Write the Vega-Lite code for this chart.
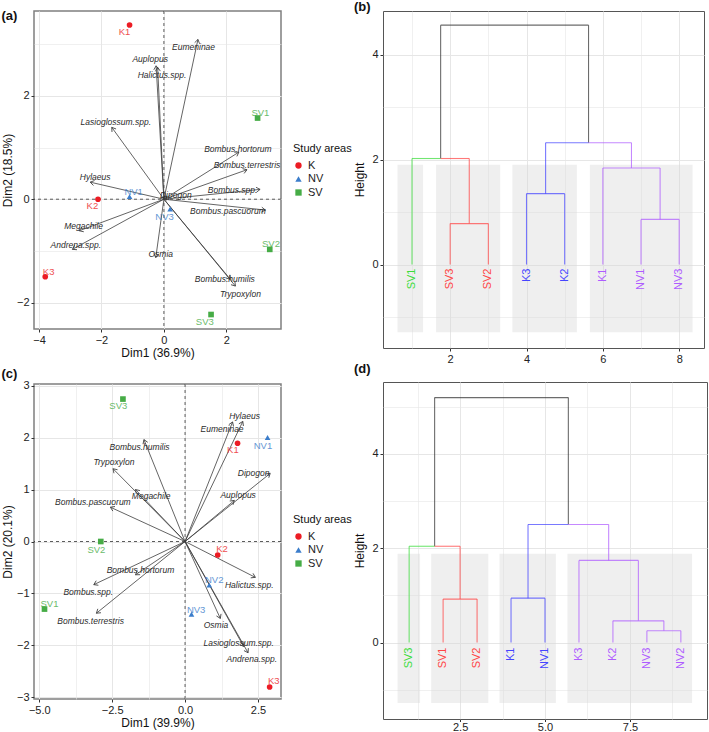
{
  "$schema": "https://vega.github.io/schema/vega-lite/v6.json",
  "background": "white",
  "padding": {"left": 0, "top": 0, "right": 0, "bottom": 0},
  "config": {
    "font": "Liberation Sans",
    "axis": {"labelFont": "Liberation Sans", "labelFontSize": 11, "labelColor": "#222222", "titleFont": "Liberation Sans", "titleFontSize": 12, "titleFontWeight": "normal", "titleColor": "#111111", "domain": false, "tickColor": "#333333", "tickSize": 3, "labelPadding": 2, "gridColor": "#E6E6E6", "titlePadding": 2, "labelOverlap": false},
    "legend": {"orient": "right", "offset": 12, "titleFont": "Liberation Sans", "titleFontSize": 11, "titleFontWeight": "normal", "titleColor": "#111111", "labelFont": "Liberation Sans", "labelFontSize": 11, "labelColor": "#222222", "symbolSize": 40, "rowPadding": 1.5, "titlePadding": 6, "layout": {"right": {"anchor": "middle"}}},
    "title": {"font": "Liberation Sans", "fontSize": 13, "fontWeight": "bold", "anchor": "start", "frame": "bounds", "color": "#111111"}
  },
  "datasets": {
    "ptsA": [
      {"name": "K1", "area": "K", "x": -1.10, "y": 3.37, "lx": -1.26, "ly": 3.24},
      {"name": "K2", "area": "K", "x": -2.11, "y": 0.00, "lx": -2.29, "ly": -0.14},
      {"name": "K3", "area": "K", "x": -3.80, "y": -1.50, "lx": -3.69, "ly": -1.41},
      {"name": "NV1", "area": "NV", "x": -1.10, "y": 0.05, "lx": -0.97, "ly": 0.13},
      {"name": "NV3", "area": "NV", "x": 0.20, "y": -0.19, "lx": 0.02, "ly": -0.34},
      {"name": "SV1", "area": "SV", "x": 3.00, "y": 1.57, "lx": 3.09, "ly": 1.66},
      {"name": "SV2", "area": "SV", "x": 3.39, "y": -0.97, "lx": 3.43, "ly": -0.86},
      {"name": "SV3", "area": "SV", "x": 1.51, "y": -2.23, "lx": 1.31, "ly": -2.37}
    ],
    "arrA": [
      {"sp": "Eumeninae", "x": 1.09, "y": 3.09, "lx": 0.95, "ly": 2.95},
      {"sp": "Auplopus", "x": -0.25, "y": 2.58, "lx": -0.44, "ly": 2.71},
      {"sp": "Halictus.spp.", "x": -0.20, "y": 2.55, "lx": -0.06, "ly": 2.40},
      {"sp": "Lasioglossum.spp.", "x": -1.67, "y": 1.39, "lx": -1.54, "ly": 1.50},
      {"sp": "Bombus.hortorum", "x": 2.40, "y": 0.91, "lx": 2.37, "ly": 0.97},
      {"sp": "Bombus.terrestris", "x": 2.66, "y": 0.57, "lx": 2.66, "ly": 0.67},
      {"sp": "Bombus.spp.", "x": 3.08, "y": 0.19, "lx": 2.20, "ly": 0.17},
      {"sp": "Bombus.pascuorum", "x": 3.25, "y": -0.21, "lx": 2.05, "ly": -0.23},
      {"sp": "Dipogon", "x": 0.10, "y": 0.06, "lx": 0.38, "ly": 0.08},
      {"sp": "Hylaeus", "x": -2.36, "y": 0.33, "lx": -2.20, "ly": 0.42},
      {"sp": "Megachile", "x": -2.71, "y": -0.61, "lx": -2.57, "ly": -0.52},
      {"sp": "Andrena.spp.", "x": -2.93, "y": -0.97, "lx": -2.82, "ly": -0.88},
      {"sp": "Osmia", "x": -0.26, "y": -1.13, "lx": -0.10, "ly": -1.05},
      {"sp": "Bombus.humilis", "x": 2.13, "y": -1.55, "lx": 1.95, "ly": -1.55},
      {"sp": "Trypoxylon", "x": 2.29, "y": -1.68, "lx": 2.45, "ly": -1.83}
    ],
    "ptsC": [
      {"name": "SV3", "area": "SV", "x": -2.13, "y": 2.74, "lx": -2.29, "ly": 2.60},
      {"name": "K1", "area": "K", "x": 1.80, "y": 1.89, "lx": 1.64, "ly": 1.76},
      {"name": "NV1", "area": "NV", "x": 2.83, "y": 2.00, "lx": 2.67, "ly": 1.84},
      {"name": "SV2", "area": "SV", "x": -2.89, "y": 0.00, "lx": -3.04, "ly": -0.16},
      {"name": "K2", "area": "K", "x": 1.12, "y": -0.26, "lx": 1.27, "ly": -0.15},
      {"name": "NV2", "area": "NV", "x": 0.83, "y": -0.84, "lx": 1.00, "ly": -0.74},
      {"name": "SV1", "area": "SV", "x": -4.82, "y": -1.30, "lx": -4.65, "ly": -1.20},
      {"name": "NV3", "area": "NV", "x": 0.22, "y": -1.40, "lx": 0.38, "ly": -1.31},
      {"name": "K3", "area": "K", "x": 2.90, "y": -2.80, "lx": 3.04, "ly": -2.69}
    ],
    "arrC": [
      {"sp": "Hylaeus", "x": 1.98, "y": 2.31, "lx": 2.04, "ly": 2.41},
      {"sp": "Eumeninae", "x": 1.63, "y": 2.30, "lx": 1.27, "ly": 2.17},
      {"sp": "Dipogon", "x": 2.92, "y": 1.31, "lx": 2.35, "ly": 1.31},
      {"sp": "Auplopus", "x": 1.69, "y": 0.79, "lx": 1.82, "ly": 0.89},
      {"sp": "Bombus.humilis", "x": -1.41, "y": 1.96, "lx": -1.56, "ly": 1.81},
      {"sp": "Trypoxylon", "x": -2.47, "y": 1.40, "lx": -2.44, "ly": 1.52},
      {"sp": "Megachile", "x": -1.70, "y": 1.00, "lx": -1.16, "ly": 0.87},
      {"sp": "Bombus.pascuorum", "x": -2.56, "y": 0.66, "lx": -3.16, "ly": 0.76},
      {"sp": "Bombus.hortorum", "x": -1.70, "y": -0.64, "lx": -1.53, "ly": -0.55},
      {"sp": "Bombus.spp.", "x": -3.13, "y": -0.83, "lx": -3.32, "ly": -0.97},
      {"sp": "Bombus.terrestris", "x": -3.04, "y": -1.38, "lx": -3.24, "ly": -1.53},
      {"sp": "Halictus.spp.", "x": 2.41, "y": -0.69, "lx": 2.20, "ly": -0.84},
      {"sp": "Osmia", "x": 1.21, "y": -1.48, "lx": 1.06, "ly": -1.61},
      {"sp": "Lasioglossum.spp.", "x": 2.01, "y": -2.02, "lx": 1.84, "ly": -1.95},
      {"sp": "Andrena.spp.", "x": 2.16, "y": -2.14, "lx": 2.29, "ly": -2.27}
    ],
    "rectB": [
      {"x": 0.62, "x2": 1.29, "y": -1.29, "y2": 1.90},
      {"x": 1.63, "x2": 3.31, "y": -1.29, "y2": 1.90},
      {"x": 3.63, "x2": 5.32, "y": -1.29, "y2": 1.90},
      {"x": 5.66, "x2": 8.35, "y": -1.29, "y2": 1.90}
    ],
    "rectD": [
      {"x": 0.66, "x2": 1.32, "y": -1.28, "y2": 1.88},
      {"x": 1.65, "x2": 3.33, "y": -1.28, "y2": 1.88},
      {"x": 3.66, "x2": 5.32, "y": -1.28, "y2": 1.88},
      {"x": 5.66, "x2": 9.33, "y": -1.28, "y2": 1.88}
    ],
    "segB": [
      {"x": 1.75, "x2": 5.625, "y": 4.56, "y2": 4.56, "cl": "root"},
      {"x": 1.75, "x2": 1.75, "y": 4.56, "y2": 2.02, "cl": "root"},
      {"x": 5.625, "x2": 5.625, "y": 4.56, "y2": 2.32, "cl": "root"},
      {"x": 1, "x2": 1.75, "y": 2.02, "y2": 2.02, "cl": "c1"},
      {"x": 1, "x2": 1, "y": 2.02, "y2": 0, "cl": "c1"},
      {"x": 1.75, "x2": 2.5, "y": 2.02, "y2": 2.02, "cl": "c2"},
      {"x": 2.5, "x2": 2.5, "y": 2.02, "y2": 0.78, "cl": "c2"},
      {"x": 2, "x2": 3, "y": 0.78, "y2": 0.78, "cl": "c2"},
      {"x": 2, "x2": 2, "y": 0.78, "y2": 0, "cl": "c2"},
      {"x": 3, "x2": 3, "y": 0.78, "y2": 0, "cl": "c2"},
      {"x": 4.5, "x2": 5.625, "y": 2.32, "y2": 2.32, "cl": "c3"},
      {"x": 4.5, "x2": 4.5, "y": 2.32, "y2": 1.35, "cl": "c3"},
      {"x": 4, "x2": 5, "y": 1.35, "y2": 1.35, "cl": "c3"},
      {"x": 4, "x2": 4, "y": 1.35, "y2": 0, "cl": "c3"},
      {"x": 5, "x2": 5, "y": 1.35, "y2": 0, "cl": "c3"},
      {"x": 5.625, "x2": 6.75, "y": 2.32, "y2": 2.32, "cl": "c4"},
      {"x": 6.75, "x2": 6.75, "y": 2.32, "y2": 1.84, "cl": "c4"},
      {"x": 6, "x2": 7.5, "y": 1.84, "y2": 1.84, "cl": "c4"},
      {"x": 6, "x2": 6, "y": 1.84, "y2": 0, "cl": "c4"},
      {"x": 7.5, "x2": 7.5, "y": 1.84, "y2": 0.86, "cl": "c4"},
      {"x": 7, "x2": 8, "y": 0.86, "y2": 0.86, "cl": "c4"},
      {"x": 7, "x2": 7, "y": 0.86, "y2": 0, "cl": "c4"},
      {"x": 8, "x2": 8, "y": 0.86, "y2": 0, "cl": "c4"}
    ],
    "segD": [
      {"x": 1.75, "x2": 5.6875, "y": 5.19, "y2": 5.19, "cl": "root"},
      {"x": 1.75, "x2": 1.75, "y": 5.19, "y2": 2.04, "cl": "root"},
      {"x": 5.6875, "x2": 5.6875, "y": 5.19, "y2": 2.50, "cl": "root"},
      {"x": 1, "x2": 1.75, "y": 2.04, "y2": 2.04, "cl": "c1"},
      {"x": 1, "x2": 1, "y": 2.04, "y2": 0, "cl": "c1"},
      {"x": 1.75, "x2": 2.5, "y": 2.04, "y2": 2.04, "cl": "c2"},
      {"x": 2.5, "x2": 2.5, "y": 2.04, "y2": 0.92, "cl": "c2"},
      {"x": 2, "x2": 3, "y": 0.92, "y2": 0.92, "cl": "c2"},
      {"x": 2, "x2": 2, "y": 0.92, "y2": 0, "cl": "c2"},
      {"x": 3, "x2": 3, "y": 0.92, "y2": 0, "cl": "c2"},
      {"x": 4.5, "x2": 5.6875, "y": 2.50, "y2": 2.50, "cl": "c3"},
      {"x": 4.5, "x2": 4.5, "y": 2.50, "y2": 0.94, "cl": "c3"},
      {"x": 4, "x2": 5, "y": 0.94, "y2": 0.94, "cl": "c3"},
      {"x": 4, "x2": 4, "y": 0.94, "y2": 0, "cl": "c3"},
      {"x": 5, "x2": 5, "y": 0.94, "y2": 0, "cl": "c3"},
      {"x": 5.6875, "x2": 6.875, "y": 2.50, "y2": 2.50, "cl": "c4"},
      {"x": 6.875, "x2": 6.875, "y": 2.50, "y2": 1.74, "cl": "c4"},
      {"x": 6, "x2": 7.75, "y": 1.74, "y2": 1.74, "cl": "c4"},
      {"x": 6, "x2": 6, "y": 1.74, "y2": 0, "cl": "c4"},
      {"x": 7.75, "x2": 7.75, "y": 1.74, "y2": 0.46, "cl": "c4"},
      {"x": 7, "x2": 8.5, "y": 0.46, "y2": 0.46, "cl": "c4"},
      {"x": 7, "x2": 7, "y": 0.46, "y2": 0, "cl": "c4"},
      {"x": 8.5, "x2": 8.5, "y": 0.46, "y2": 0.25, "cl": "c4"},
      {"x": 8, "x2": 9, "y": 0.25, "y2": 0.25, "cl": "c4"},
      {"x": 8, "x2": 8, "y": 0.25, "y2": 0, "cl": "c4"},
      {"x": 9, "x2": 9, "y": 0.25, "y2": 0, "cl": "c4"}
    ],
    "leafB": [
      {"name": "SV1", "x": 1, "cl": "c1"}, {"name": "SV3", "x": 2, "cl": "c2"}, {"name": "SV2", "x": 3, "cl": "c2"},
      {"name": "K3", "x": 4, "cl": "c3"}, {"name": "K2", "x": 5, "cl": "c3"},
      {"name": "K1", "x": 6, "cl": "c4"}, {"name": "NV1", "x": 7, "cl": "c4"}, {"name": "NV3", "x": 8, "cl": "c4"}
    ],
    "leafD": [
      {"name": "SV3", "x": 1, "cl": "c1"}, {"name": "SV1", "x": 2, "cl": "c2"}, {"name": "SV2", "x": 3, "cl": "c2"},
      {"name": "K1", "x": 4, "cl": "c3"}, {"name": "NV1", "x": 5, "cl": "c3"},
      {"name": "K3", "x": 6, "cl": "c4"}, {"name": "K2", "x": 7, "cl": "c4"}, {"name": "NV3", "x": 8, "cl": "c4"}, {"name": "NV2", "x": 9, "cl": "c4"}
    ]
  },
  "spacing": 0,
  "resolve": {"scale": {"color": "independent", "shape": "independent"}, "legend": {"color": "independent", "shape": "independent"}},
  "hconcat": [
    {
      "spacing": 7,
      "resolve": {"scale": {"color": "independent", "shape": "independent"}, "legend": {"color": "independent", "shape": "independent"}},
      "vconcat": [
        {
          "width": 247, "height": 318,
          "view": {"stroke": "#7F7F7F", "strokeWidth": 1.5},
          "title": {"text": "(a)", "offset": -12},
          "layer": [
            {"data": {"values": [{}]}, "mark": {"type": "rule", "strokeDash": [3, 3], "color": "#333333", "strokeWidth": 0.8},
             "encoding": {"x": {"datum": 0, "type": "quantitative", "scale": {"domain": [-4.16, 3.75], "nice": false, "zero": false},
               "axis": {"title": "Dim1 (36.9%)", "values": [-4, -3, -2, -1, 0, 1, 2, 3], "grid": true, "labelExpr": "datum.value % 2 === 0 ? datum.label : ''", "tickOpacity": {"condition": {"test": "datum.value % 2 !== 0", "value": 0}, "value": 1}, "gridWidth": {"condition": {"test": "datum.value % 2 !== 0", "value": 0.6}, "value": 1}}}}},
            {"data": {"values": [{}]}, "mark": {"type": "rule", "strokeDash": [3, 3], "color": "#333333", "strokeWidth": 0.8},
             "encoding": {"y": {"datum": 0, "type": "quantitative", "scale": {"domain": [-2.51, 3.64], "nice": false, "zero": false},
               "axis": {"title": "Dim2 (18.5%)", "values": [-2, -1, 0, 1, 2, 3], "grid": true, "labelExpr": "datum.value % 2 === 0 ? datum.label : ''", "tickOpacity": {"condition": {"test": "datum.value % 2 !== 0", "value": 0}, "value": 1}, "gridWidth": {"condition": {"test": "datum.value % 2 !== 0", "value": 0.6}, "value": 1}}}}},
            {"data": {"name": "arrA"}, "mark": {"type": "rule", "color": "#3C3C3C", "strokeWidth": 0.8, "clip": true},
             "encoding": {"x": {"field": "x", "type": "quantitative"}, "y": {"field": "y", "type": "quantitative"}, "x2": {"datum": 0}, "y2": {"datum": 0}}},
            {"data": {"name": "arrA"}, "transform": [{"calculate": "atan2(-datum.y * 51.7, datum.x * 31.2) * 180 / PI", "as": "ang"}],
             "mark": {"type": "point", "shape": "M-1,-0.65L0,0L-1,0.65", "filled": false, "stroke": "#3C3C3C", "strokeWidth": 0.8, "size": 60, "opacity": 1, "clip": true},
             "encoding": {"x": {"field": "x", "type": "quantitative"}, "y": {"field": "y", "type": "quantitative"}, "angle": {"field": "ang", "type": "quantitative", "scale": null}}},
            {"data": {"name": "arrA"}, "mark": {"type": "text", "fontStyle": "italic", "fontSize": 8.5, "color": "#2B2B2B", "clip": true},
             "encoding": {"x": {"field": "lx", "type": "quantitative"}, "y": {"field": "ly", "type": "quantitative"}, "text": {"field": "sp"}}},
            {"data": {"name": "ptsA"}, "mark": {"type": "point", "filled": true, "size": 32, "opacity": 1, "clip": true},
             "encoding": {"x": {"field": "x", "type": "quantitative"}, "y": {"field": "y", "type": "quantitative"},
               "color": {"field": "area", "type": "nominal", "scale": {"domain": ["K", "NV", "SV"], "range": ["#EC1C24", "#3B7DCB", "#46AC46"]}, "legend": {"title": "Study areas"}},
               "shape": {"field": "area", "type": "nominal", "scale": {"domain": ["K", "NV", "SV"], "range": ["circle", "triangle-up", "square"]}, "legend": {"title": "Study areas"}}}},
            {"data": {"name": "ptsA"}, "mark": {"type": "text", "fontSize": 9.5, "opacity": 0.8, "clip": true},
             "encoding": {"x": {"field": "lx", "type": "quantitative"}, "y": {"field": "ly", "type": "quantitative"}, "text": {"field": "name"},
               "color": {"field": "area", "type": "nominal", "legend": null}}}
          ]
        },
        {
          "width": 247, "height": 315,
          "view": {"stroke": "#7F7F7F", "strokeWidth": 1.5},
          "title": {"text": "(c)", "offset": -1},
          "layer": [
            {"data": {"values": [{}]}, "mark": {"type": "rule", "strokeDash": [3, 3], "color": "#333333", "strokeWidth": 0.8},
             "encoding": {"x": {"datum": 0, "type": "quantitative", "scale": {"domain": [-5.18, 3.29], "nice": false, "zero": false},
               "axis": {"title": "Dim1 (39.9%)", "values": [-5, -3.75, -2.5, -1.25, 0, 1.25, 2.5], "format": ".1f", "grid": true, "labelExpr": "abs(datum.value % 2.5) < 0.001 ? datum.label : ''", "tickOpacity": {"condition": {"test": "abs(datum.value % 2.5) > 0.001", "value": 0}, "value": 1}, "gridWidth": {"condition": {"test": "abs(datum.value % 2.5) > 0.001", "value": 0.6}, "value": 1}}}}},
            {"data": {"values": [{}]}, "mark": {"type": "rule", "strokeDash": [3, 3], "color": "#333333", "strokeWidth": 0.8},
             "encoding": {"y": {"datum": 0, "type": "quantitative", "scale": {"domain": [-3.03, 3.03], "nice": false, "zero": false},
               "axis": {"title": "Dim2 (20.1%)", "values": [-3, -2.5, -2, -1.5, -1, -0.5, 0, 0.5, 1, 1.5, 2, 2.5, 3], "grid": true, "labelExpr": "datum.value % 1 === 0 ? datum.label : ''", "tickOpacity": {"condition": {"test": "datum.value % 1 !== 0", "value": 0}, "value": 1}, "gridWidth": {"condition": {"test": "datum.value % 1 !== 0", "value": 0.6}, "value": 1}}}}},
            {"data": {"name": "arrC"}, "mark": {"type": "rule", "color": "#3C3C3C", "strokeWidth": 0.8, "clip": true},
             "encoding": {"x": {"field": "x", "type": "quantitative"}, "y": {"field": "y", "type": "quantitative"}, "x2": {"datum": 0}, "y2": {"datum": 0}}},
            {"data": {"name": "arrC"}, "transform": [{"calculate": "atan2(-datum.y * 52.5, datum.x * 29.2) * 180 / PI", "as": "ang"}],
             "mark": {"type": "point", "shape": "M-1,-0.65L0,0L-1,0.65", "filled": false, "stroke": "#3C3C3C", "strokeWidth": 0.8, "size": 60, "opacity": 1, "clip": true},
             "encoding": {"x": {"field": "x", "type": "quantitative"}, "y": {"field": "y", "type": "quantitative"}, "angle": {"field": "ang", "type": "quantitative", "scale": null}}},
            {"data": {"name": "arrC"}, "mark": {"type": "text", "fontStyle": "italic", "fontSize": 8.5, "color": "#2B2B2B", "clip": true},
             "encoding": {"x": {"field": "lx", "type": "quantitative"}, "y": {"field": "ly", "type": "quantitative"}, "text": {"field": "sp"}}},
            {"data": {"name": "ptsC"}, "mark": {"type": "point", "filled": true, "size": 32, "opacity": 1, "clip": true},
             "encoding": {"x": {"field": "x", "type": "quantitative"}, "y": {"field": "y", "type": "quantitative"},
               "color": {"field": "area", "type": "nominal", "scale": {"domain": ["K", "NV", "SV"], "range": ["#EC1C24", "#3B7DCB", "#46AC46"]}, "legend": {"title": "Study areas"}},
               "shape": {"field": "area", "type": "nominal", "scale": {"domain": ["K", "NV", "SV"], "range": ["circle", "triangle-up", "square"]}, "legend": {"title": "Study areas"}}}},
            {"data": {"name": "ptsC"}, "mark": {"type": "text", "fontSize": 9.5, "opacity": 0.8, "clip": true},
             "encoding": {"x": {"field": "lx", "type": "quantitative"}, "y": {"field": "ly", "type": "quantitative"}, "text": {"field": "name"},
               "color": {"field": "area", "type": "nominal", "legend": null}}}
          ]
        }
      ]
    },
    {
      "spacing": -3,
      "resolve": {"scale": {"color": "independent", "shape": "independent"}, "legend": {"color": "independent", "shape": "independent"}},
      "vconcat": [
        {
          "width": 321, "height": 337,
          "view": {"stroke": "#555555", "strokeWidth": 1},
          "title": {"text": "(b)", "offset": -3},
          "layer": [
            {"data": {"name": "rectB"}, "mark": {"type": "rect", "color": "#DADADA", "opacity": 0.42},
             "encoding": {"x": {"field": "x", "type": "quantitative", "scale": {"domain": [0.24, 8.65], "nice": false, "zero": false},
                 "axis": {"title": null, "values": [1, 2, 3, 4, 5, 6, 7, 8], "grid": true, "labelExpr": "datum.value % 2 === 0 ? datum.label : ''", "tickOpacity": {"condition": {"test": "datum.value % 2 !== 0", "value": 0}, "value": 1}, "gridWidth": {"condition": {"test": "datum.value % 2 !== 0", "value": 0.6}, "value": 1}}},
               "x2": {"field": "x2"},
               "y": {"field": "y", "type": "quantitative", "scale": {"domain": [-1.59, 4.83], "nice": false, "zero": false},
                 "axis": {"title": "Height", "titlePadding": 5, "values": [-1, 0, 1, 2, 3, 4], "grid": true, "labelExpr": "datum.value % 2 === 0 ? datum.label : ''", "tickOpacity": {"condition": {"test": "datum.value % 2 !== 0", "value": 0}, "value": 1}, "gridWidth": {"condition": {"test": "datum.value % 2 !== 0", "value": 0.6}, "value": 1}}},
               "y2": {"field": "y2"}}},
            {"data": {"name": "segB"}, "mark": {"type": "rule", "strokeWidth": 1.1, "opacity": 0.72},
             "encoding": {"x": {"field": "x", "type": "quantitative"}, "x2": {"field": "x2"}, "y": {"field": "y", "type": "quantitative"}, "y2": {"field": "y2"},
               "color": {"field": "cl", "type": "nominal", "scale": {"domain": ["c1", "c2", "c3", "c4", "root"], "range": ["#3CDC3C", "#FF4545", "#4545FF", "#AE5CFF", "#333333"]}, "legend": null}}},
            {"data": {"name": "leafB"}, "mark": {"type": "text", "angle": 270, "align": "right", "baseline": "middle", "dx": -4, "fontSize": 11},
             "encoding": {"x": {"field": "x", "type": "quantitative"}, "y": {"datum": 0}, "text": {"field": "name"},
               "color": {"field": "cl", "type": "nominal", "legend": null}}}
          ]
        },
        {
          "width": 324, "height": 337,
          "view": {"stroke": "#555555", "strokeWidth": 1},
          "title": {"text": "(d)", "offset": 6},
          "layer": [
            {"data": {"name": "rectD"}, "mark": {"type": "rect", "color": "#DADADA", "opacity": 0.42},
             "encoding": {"x": {"field": "x", "type": "quantitative", "scale": {"domain": [0.23, 9.77], "nice": false, "zero": false},
                 "axis": {"title": null, "values": [1.25, 2.5, 3.75, 5, 6.25, 7.5, 8.75], "format": ".1f", "tickSize": 2.5, "labelPadding": 0, "grid": true, "labelExpr": "abs(datum.value % 2.5) < 0.001 ? datum.label : ''", "tickOpacity": {"condition": {"test": "abs(datum.value % 2.5) > 0.001", "value": 0}, "value": 1}, "gridWidth": {"condition": {"test": "abs(datum.value % 2.5) > 0.001", "value": 0.6}, "value": 1}}},
               "x2": {"field": "x2"},
               "y": {"field": "y", "type": "quantitative", "scale": {"domain": [-1.62, 5.52], "nice": false, "zero": false},
                 "axis": {"title": "Height", "titlePadding": 5, "values": [-1, 0, 1, 2, 3, 4, 5], "grid": true, "labelExpr": "datum.value % 2 === 0 ? datum.label : ''", "tickOpacity": {"condition": {"test": "datum.value % 2 !== 0", "value": 0}, "value": 1}, "gridWidth": {"condition": {"test": "datum.value % 2 !== 0", "value": 0.6}, "value": 1}}},
               "y2": {"field": "y2"}}},
            {"data": {"name": "segD"}, "mark": {"type": "rule", "strokeWidth": 1.1, "opacity": 0.72},
             "encoding": {"x": {"field": "x", "type": "quantitative"}, "x2": {"field": "x2"}, "y": {"field": "y", "type": "quantitative"}, "y2": {"field": "y2"},
               "color": {"field": "cl", "type": "nominal", "scale": {"domain": ["c1", "c2", "c3", "c4", "root"], "range": ["#3CDC3C", "#FF4545", "#4545FF", "#AE5CFF", "#333333"]}, "legend": null}}},
            {"data": {"name": "leafD"}, "mark": {"type": "text", "angle": 270, "align": "right", "baseline": "middle", "dx": -5, "fontSize": 11},
             "encoding": {"x": {"field": "x", "type": "quantitative"}, "y": {"datum": 0}, "text": {"field": "name"},
               "color": {"field": "cl", "type": "nominal", "legend": null}}}
          ]
        }
      ]
    }
  ]
}
